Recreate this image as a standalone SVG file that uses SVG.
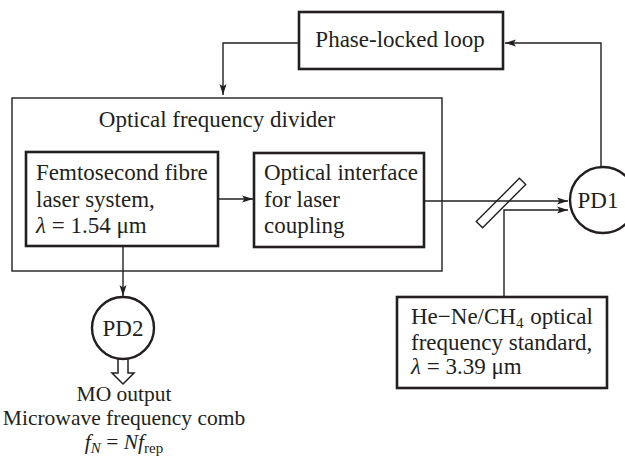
<svg xmlns="http://www.w3.org/2000/svg" width="625" height="461" viewBox="0 0 625 461">
<style>
text{font-family:"Liberation Serif","Times New Roman",serif;font-size:23px;fill:#231f20}
.thick{fill:#fff;stroke:#231f20;stroke-width:2.6}
.thin{fill:none;stroke:#231f20;stroke-width:1.4}
.ln{fill:none;stroke:#231f20;stroke-width:1.4}
.c{text-anchor:middle}
.sub{font-size:15px}
.out{font-size:21.5px}
</style>
<defs>
<marker id="ar" markerUnits="userSpaceOnUse" markerWidth="12" markerHeight="8" refX="11" refY="4" orient="auto">
<path d="M0,0.5 L11,4 L0,7.5 L2.5,4 Z" fill="#231f20"/>
</marker>
</defs>
<g id="connectors">
<path class="ln" d="M299,43 H223 V95" marker-end="url(#ar)"/>
<path class="ln" d="M601,167 V43 H505" marker-end="url(#ar)"/>
<path class="ln" d="M218,199 H253" marker-end="url(#ar)"/>
<path class="ln" d="M424,201 H568" marker-end="url(#ar)"/>
<path class="ln" d="M504,297 V210 H568" marker-end="url(#ar)"/>
<path class="ln" d="M123,246 V296" marker-end="url(#ar)"/>
<polygon points="118,359 128,359 128,373 134,373 123,384 112,373 118,373" fill="#fff" stroke="#231f20" stroke-width="1.5"/>
</g>
<g id="pll">
<rect class="thick" x="299" y="12" width="204" height="57"/>
<text class="c" x="400" y="47">Phase-locked loop</text>
</g>
<g id="ofd">
<rect class="thin" x="12" y="98" width="430" height="173"/>
<text class="c" x="217" y="127">Optical frequency divider</text>
</g>
<g id="femto">
<rect class="thick" x="26" y="152" width="192" height="94"/>
<text x="36" y="180">Femtosecond fibre</text>
<text x="36" y="207">laser system,</text>
<text x="36" y="233"><tspan font-style="italic">λ</tspan> = 1.54 μm</text>
</g>
<g id="interface">
<rect class="thick" x="254" y="153" width="170" height="94"/>
<text x="264" y="180">Optical interface</text>
<text x="264" y="207">for laser</text>
<text x="264" y="233">coupling</text>
</g>
<g id="splitter">
<rect x="470.5" y="198.5" width="61" height="9" transform="rotate(-45 501 203)" fill="none" stroke="#231f20" stroke-width="1.4"/>
</g>
<g id="pd1">
<circle cx="603" cy="200" r="33" fill="#fff" stroke="#231f20" stroke-width="2.4"/>
<text class="c" x="598" y="208">PD1</text>
</g>
<g id="pd2">
<circle cx="123" cy="328" r="31" fill="#fff" stroke="#231f20" stroke-width="2.4"/>
<text class="c" x="123" y="336">PD2</text>
</g>
<g id="hene">
<rect class="thick" x="397" y="297" width="210" height="91"/>
<text x="411" y="324">He−Ne/CH<tspan class="sub" baseline-shift="-4">4</tspan><tspan dx="1"> optical</tspan></text>
<text x="411" y="350">frequency standard,</text>
<text x="411" y="374"><tspan font-style="italic">λ</tspan> = 3.39 μm</text>
</g>
<g id="output">
<text class="c out" x="124" y="401">MO output</text>
<text class="c out" x="124" y="425">Microwave frequency comb</text>
<text class="c out" x="124" y="449"><tspan font-style="italic">f</tspan><tspan class="sub" font-style="italic" baseline-shift="-4">N</tspan> = <tspan font-style="italic">Nf</tspan><tspan class="sub" baseline-shift="-4">rep</tspan></text>
</g>
</svg>
